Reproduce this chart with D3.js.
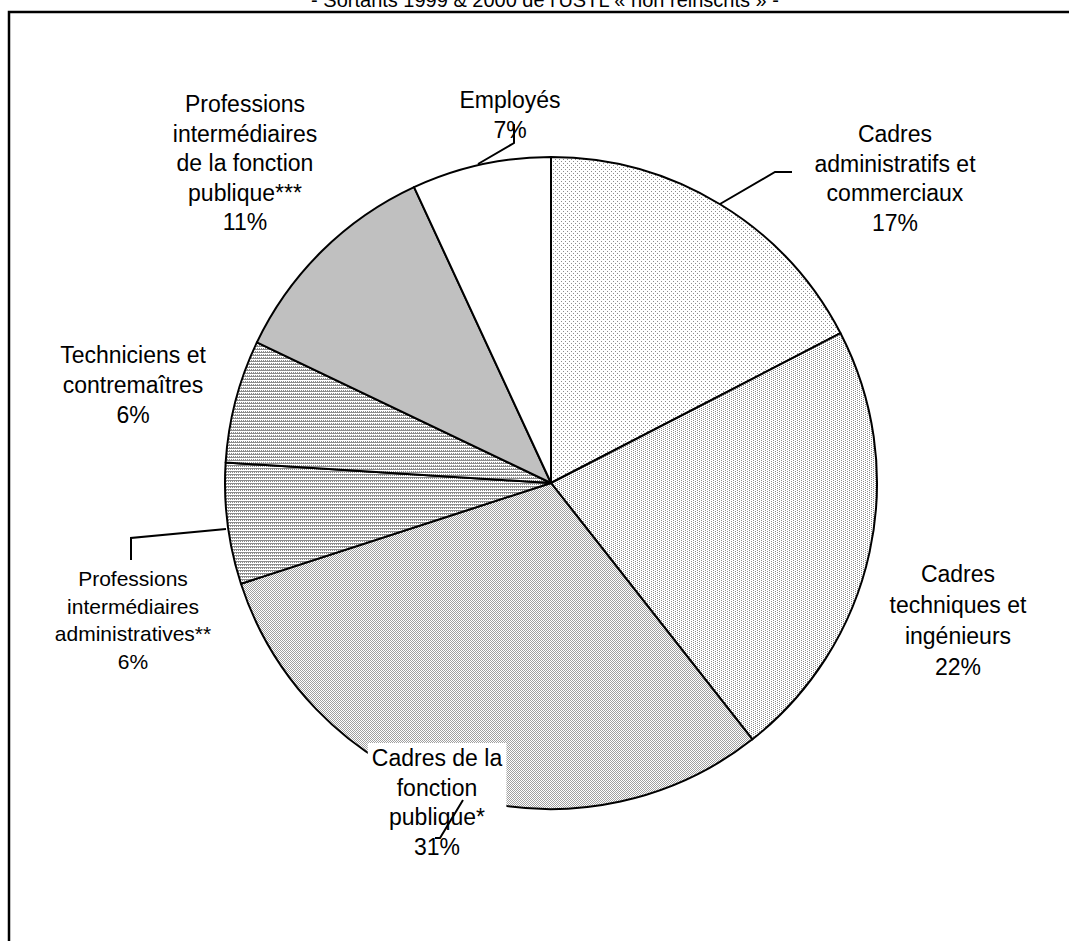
<!DOCTYPE html>
<html>
<head>
<meta charset="utf-8">
<script src="https://cdn.jsdelivr.net/npm/d3@7"></script>
<style>
  body { margin: 0; background: #fff; }
  svg { display: block; font-family: Arial, "Liberation Sans", sans-serif; }
</style>
</head>
<body>
<svg id="chart"></svg>
<script>
// data
var categories = [
  "Cadres administratifs et commerciaux",
  "Cadres techniques et ingénieurs",
  "Cadres de la fonction publique*",
  "Professions intermédiaires administratives**",
  "Techniciens et contremaîtres",
  "Professions intermédiaires de la fonction publique***",
  "Employés"
];
var shares = [17.4, 22.0, 30.6, 6.0, 6.1, 11.0, 6.9];
var labelLines = [
  ["Cadres", "administratifs et", "commerciaux"],
  ["Cadres", "techniques et", "ingénieurs"],
  ["Cadres de la", "fonction", "publique*"],
  ["Professions", "intermédiaires", "administratives**"],
  ["Techniciens et", "contremaîtres"],
  ["Professions", "intermédiaires", "de la fonction", "publique***"],
  ["Employés"]
];
var title = "- Sortants 1999 & 2000 de l'USTL « non réinscrits » -";

var W = 1069, H = 941;
var cx = 551, cy = 483, R = 326;

var svg = d3.select("#chart").attr("width", W).attr("height", H);

// fill patterns (Excel style)
var defs = svg.append("defs");
function pattern(id, w, h, pix, col) {
  var p = defs.append("pattern").attr("id", id)
    .attr("patternUnits", "userSpaceOnUse").attr("width", w).attr("height", h);
  p.append("rect").attr("width", w).attr("height", h).attr("fill", "#fff");
  pix.forEach(function (d) {
    p.append("rect").attr("x", d[0]).attr("y", d[1]).attr("width", 1).attr("height", 1).attr("fill", col);
  });
}
pattern("p0", 4, 4, [[0, 0], [2, 2]], "#8c8c8c");
pattern("p1", 4, 2, [[0, 0], [2, 1]], "#8c8c8c");
pattern("p2", 2, 2, [[0, 0], [1, 1]], "#a0a0a0");
pattern("p3", 4, 3, [[0, 0], [1, 1], [2, 0], [3, 1], [1, 0], [3, 0]], "#8c8c8c");
pattern("p4", 4, 3, [[0, 0], [1, 1], [2, 0], [3, 1], [0, 1], [2, 1]], "#8c8c8c");
var fills = ["url(#p0)", "url(#p1)", "url(#p2)", "url(#p3)", "url(#p4)", "#c0c0c0", "#fff"];

// frame (cut off at right and bottom)
svg.append("path").attr("d", "M9," + H + "V12H" + W)
  .attr("fill", "none").attr("stroke", "#000").attr("stroke-width", 2.5);

svg.append("text").attr("x", 545).attr("y", 7).attr("text-anchor", "middle")
  .attr("font-size", 20).text(title);

var pie = d3.pie().sort(null).value(function (d) { return d; });
var arc = d3.arc().innerRadius(0).outerRadius(R);
var arcs = pie(shares);

var g = svg.append("g").attr("transform", "translate(" + cx + "," + cy + ")");
g.selectAll("path.slice").data(arcs).enter().append("path")
  .attr("class", "slice")
  .attr("d", arc)
  .attr("fill", function (d, i) { return fills[i]; })
  .attr("stroke", "#000").attr("stroke-width", 2)
  .attr("stroke-linejoin", "round");

// label positions (centre x, first baseline y, font size, line step, white box)
var labelPos = [
  [895, 142, 23, 29.5, false],
  [958, 582, 23, 31, false],
  [437, 766, 23, 29.5, true],
  [133, 586, 21, 27.5, false],
  [133, 363, 23, 30, false],
  [245, 112, 23, 29.5, false],
  [510, 108, 23, 29.5, false]
];
var leaders = [
  [[720, 204], [775, 172], [792, 172]],
  null,
  [[463, 800], [440, 838], [435, 838]],
  [[226, 529], [131, 538], [131, 560]],
  null,
  null,
  [[478, 164], [514, 143], [514, 124]]
];

labelLines.forEach(function (lines, i) {
  var p = labelPos[i];
  var lg = svg.append("g");
  var t = lg.append("text").attr("text-anchor", "middle").attr("font-size", p[2]);
  lines.concat([Math.round(shares[i]) + "%"]).forEach(function (s, k) {
    t.append("tspan").attr("x", p[0]).attr("y", p[1] + k * p[3]).text(s);
  });
  if (p[4]) {
    var b = t.node().getBBox();
    lg.insert("rect", "text").attr("x", b.x - 4).attr("y", b.y - 2)
      .attr("width", b.width + 8).attr("height", b.height + 4).attr("fill", "#fff");
  }
});

svg.selectAll("path.leader").data(leaders.filter(function (d) { return d; }))
  .enter().append("path").attr("class", "leader")
  .attr("d", d3.line())
  .attr("fill", "none").attr("stroke", "#000").attr("stroke-width", 2);
</script>
</body>
</html>
